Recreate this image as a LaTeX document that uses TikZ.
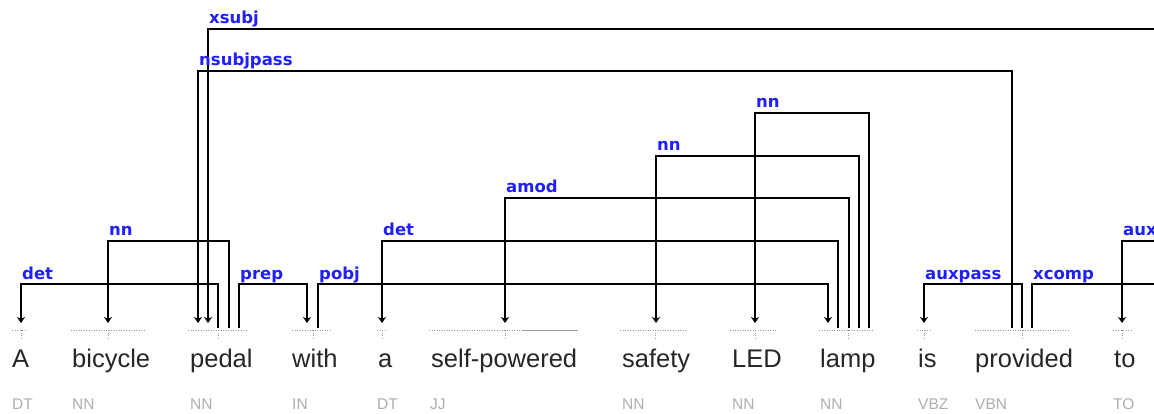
\documentclass[tikz,border=0pt]{standalone}
\usepackage{fontspec}
\setmainfont{Liberation Sans}
\newfontfamily\labfont{DejaVu Sans}
\usetikzlibrary{arrows.meta}
\definecolor{tagcol}{gray}{0.68}
\definecolor{dotcol}{gray}{0.6}
\definecolor{labcol}{rgb}{0.12,0.12,1}
\tikzset{
  word/.style={anchor=base west, inner sep=0pt, font=\fontsize{25.5}{27}\selectfont, text=black!85},
  tag/.style={anchor=base west, inner sep=0pt, font=\fontsize{15.5}{17}\selectfont, text=tagcol},
  lab/.style={anchor=base west, inner sep=0pt, xshift=1pt, yshift=5pt, font=\labfont\bfseries\fontsize{16.5}{18}\selectfont, text=labcol},
  deparc/.style={draw, line width=1.2pt, -{Stealth[length=6pt,width=8pt,inset=2pt]}},
  headline/.style={draw, line width=1.2pt},
  tokline/.style={draw=dotcol, line width=1pt, dash pattern=on 1pt off 1.5pt}
}

\begin{document}
\begin{tikzpicture}[x=1pt,y=-1pt]
\useasboundingbox (0,0) rectangle (1154,414);

\node[word] (a1) at (12,367) {A};
\node[word] (bicycle) at (72,367) {bicycle};
\node[word] (pedal) at (190,367) {pedal};
\node[word] (with) at (292,367) {with};
\node[word] (a2) at (378,367) {a};
\node[word] (selfpowered) at (431,367) {self-powered};
\node[word] (safety) at (622,367) {safety};
\node[word] (led) at (732,367) {LED};
\node[word] (lamp) at (820,367) {lamp};
\node[word] (is) at (918,367) {is};
\node[word] (provided) at (975,367) {provided};
\node[word] (to) at (1114,367) {to};

\node[tag] (a1-tag) at (12,409) {DT};
\node[tag] (bicycle-tag) at (72,409) {NN};
\node[tag] (pedal-tag) at (190,409) {NN};
\node[tag] (with-tag) at (292,409) {IN};
\node[tag] (a2-tag) at (377,409) {DT};
\node[tag] (selfpowered-tag) at (430,409) {JJ};
\node[tag] (safety-tag) at (622,409) {NN};
\node[tag] (led-tag) at (732,409) {NN};
\node[tag] (lamp-tag) at (820,409) {NN};
\node[tag] (is-tag) at (918,409) {VBZ};
\node[tag] (provided-tag) at (975,409) {VBN};
\node[tag] (to-tag) at (1113,409) {TO};

% token underlines
\foreach \l/\r/\m in {12/27/21, 71/145/108, 188/248/218, 292/332/313, 377/387/382, 429/522/505,
  620/687/655, 730/776/755, 819/873/848, 917/932/924, 975/1070/1022, 1113/1132/1122}
  \draw[tokline] (\l,330) -- (\r,330) (\m,330) -- (\m,339);
\draw[draw=dotcol, line width=1pt] (522,330) -- (578,330);

% attachment points
\coordinate (a1-in) at (21,323);
\coordinate (bicycle-in) at (108,323);
\coordinate (pedal-in1) at (198,323);
\coordinate (pedal-in2) at (208,323);
\coordinate (pedal-o1) at (218,328);
\coordinate (pedal-o2) at (229,328);
\coordinate (pedal-o3) at (239,328);
\coordinate (with-in) at (307,323);
\coordinate (with-o) at (318,328);
\coordinate (a2-in) at (382,323);
\coordinate (selfpowered-in) at (505,323);
\coordinate (safety-in) at (656,323);
\coordinate (led-in) at (755,323);
\coordinate (lamp-in) at (828,323);
\coordinate (lamp-o1) at (838,328);
\coordinate (lamp-o2) at (849,328);
\coordinate (lamp-o3) at (859,328);
\coordinate (lamp-o4) at (869,328);
\coordinate (is-in) at (924,323);
\coordinate (provided-o1) at (1012,328);
\coordinate (provided-o2) at (1022,328);
\coordinate (provided-o3) at (1032,328);
\coordinate (to-in) at (1122,323);
\coordinate (edge) at (1154,0);
\foreach \n/\y in {1/284, 2/241, 3/198, 4/156, 5/113, 6/71, 7/29}
  \coordinate (L\n) at (0,\y);

% arcs
\draw[deparc] (edge |- L7) -- (pedal-in2 |- L7) -- (pedal-in2);
\node[lab] at (pedal-in2 |- L7) {xsubj};
\draw[deparc] (provided-o1) -- (provided-o1 |- L6) -- (pedal-in1 |- L6) -- (pedal-in1);
\node[lab] at (pedal-in1 |- L6) {nsubjpass};
\draw[deparc] (pedal-o1) -- (pedal-o1 |- L1) -- (a1-in |- L1) -- (a1-in);
\node[lab] at (a1-in |- L1) {det};
\draw[deparc] (pedal-o2) -- (pedal-o2 |- L2) -- (bicycle-in |- L2) -- (bicycle-in);
\node[lab] at (bicycle-in |- L2) {nn};
\draw[deparc] (pedal-o3) -- (pedal-o3 |- L1) -- (with-in |- L1) -- (with-in);
\node[lab] at (pedal-o3 |- L1) {prep};
\draw[deparc] (with-o) -- (with-o |- L1) -- (lamp-in |- L1) -- (lamp-in);
\node[lab] at (with-o |- L1) {pobj};
\draw[deparc] (lamp-o1) -- (lamp-o1 |- L2) -- (a2-in |- L2) -- (a2-in);
\node[lab] at (a2-in |- L2) {det};
\draw[deparc] (lamp-o2) -- (lamp-o2 |- L3) -- (selfpowered-in |- L3) -- (selfpowered-in);
\node[lab] at (selfpowered-in |- L3) {amod};
\draw[deparc] (lamp-o3) -- (lamp-o3 |- L4) -- (safety-in |- L4) -- (safety-in);
\node[lab] at (safety-in |- L4) {nn};
\draw[deparc] (lamp-o4) -- (lamp-o4 |- L5) -- (led-in |- L5) -- (led-in);
\node[lab] at (led-in |- L5) {nn};
\draw[deparc] (provided-o2) -- (provided-o2 |- L1) -- (is-in |- L1) -- (is-in);
\node[lab] at (is-in |- L1) {auxpass};
\draw[headline] (provided-o3) -- (provided-o3 |- L1) -- (edge |- L1);
\node[lab] at (provided-o3 |- L1) {xcomp};
\draw[deparc] (edge |- L2) -- (to-in |- L2) -- (to-in);
\node[lab] at (to-in |- L2) {aux};
\end{tikzpicture}
\end{document}
